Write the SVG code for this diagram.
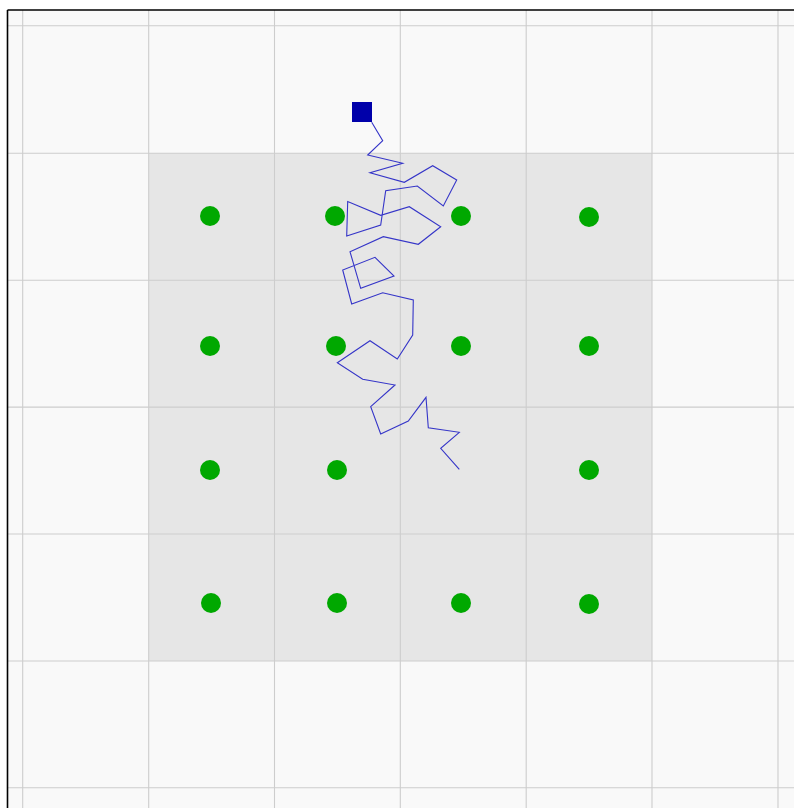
<svg xmlns="http://www.w3.org/2000/svg" width="794" height="808" viewBox="0 0 794 808">
<style>
.grid{stroke:#cdcdcd;stroke-width:1.1;fill:none}
.dot{fill:#00a800}
.path{fill:none;stroke:#3535c8;stroke-width:1.1;stroke-linejoin:miter}
</style>
<rect x="0" y="0" width="794" height="808" fill="#ffffff"/>
<rect x="7.5" y="10" width="800" height="810" fill="#f9f9f9"/>
<rect x="148.7" y="153.3" width="503.3" height="507.7" fill="#e6e6e6"/>
<g id="grid" class="grid">
<line x1="22.7" y1="10" x2="22.7" y2="808"/>
<line x1="148.7" y1="10" x2="148.7" y2="808"/>
<line x1="274.5" y1="10" x2="274.5" y2="808"/>
<line x1="400.3" y1="10" x2="400.3" y2="808"/>
<line x1="526.2" y1="10" x2="526.2" y2="808"/>
<line x1="652" y1="10" x2="652" y2="808"/>
<line x1="778" y1="10" x2="778" y2="808"/>
<line x1="7.5" y1="25.7" x2="794" y2="25.7"/>
<line x1="7.5" y1="153.3" x2="794" y2="153.3"/>
<line x1="7.5" y1="280.2" x2="794" y2="280.2"/>
<line x1="7.5" y1="407.1" x2="794" y2="407.1"/>
<line x1="7.5" y1="534" x2="794" y2="534"/>
<line x1="7.5" y1="661" x2="794" y2="661"/>
<line x1="7.5" y1="787.8" x2="794" y2="787.8"/>
</g>
<g id="border" stroke="#000" stroke-width="1.6" fill="none">
<line x1="7.5" y1="10" x2="7.5" y2="808"/>
<line x1="7.5" y1="10" x2="794" y2="10"/>
</g>
<g id="connectors">
<polyline class="path" points="371.7,122.3 382.7,140.7 367.7,155 402.7,163.3 370,172.7 404.3,182.3 432.7,165.7 456.7,180 443.3,206 417.3,186 385.7,190.7 380.7,225 346.7,236 347.7,201.5 380.7,215.3 409.3,206.7 440.7,226.7 418.3,244.3 383.3,236.7 350,251.7 360.7,288.3 394,276 375,257.3 342.7,270 351.7,304 382.7,292.7 413.3,300 412.7,335 397.3,359 370,340.7 337.3,362.7 362.7,379.3 395,385 370.7,406.7 380.7,434 408.3,421 426,397.3 428.3,427.7 459.3,432.3 440.7,448.3 459.3,469.3"/>
</g>
<g id="start"><rect x="352" y="102" width="20" height="20" fill="#0000aa"/></g>
<g id="n1"><circle class="dot" cx="210" cy="216" r="10"/></g>
<g id="n2"><circle class="dot" cx="335" cy="216" r="10"/></g>
<g id="n3"><circle class="dot" cx="461" cy="216" r="10"/></g>
<g id="n4"><circle class="dot" cx="589" cy="217" r="10"/></g>
<g id="n5"><circle class="dot" cx="210" cy="346" r="10"/></g>
<g id="n6"><circle class="dot" cx="336" cy="346" r="10"/></g>
<g id="n7"><circle class="dot" cx="461" cy="346" r="10"/></g>
<g id="n8"><circle class="dot" cx="589" cy="346" r="10"/></g>
<g id="n9"><circle class="dot" cx="210" cy="470" r="10"/></g>
<g id="n10"><circle class="dot" cx="337" cy="470" r="10"/></g>
<g id="n11"><circle class="dot" cx="589" cy="470" r="10"/></g>
<g id="n12"><circle class="dot" cx="211" cy="603" r="10"/></g>
<g id="n13"><circle class="dot" cx="337" cy="603" r="10"/></g>
<g id="n14"><circle class="dot" cx="461" cy="603" r="10"/></g>
<g id="n15"><circle class="dot" cx="589" cy="604" r="10"/></g>
</svg>
